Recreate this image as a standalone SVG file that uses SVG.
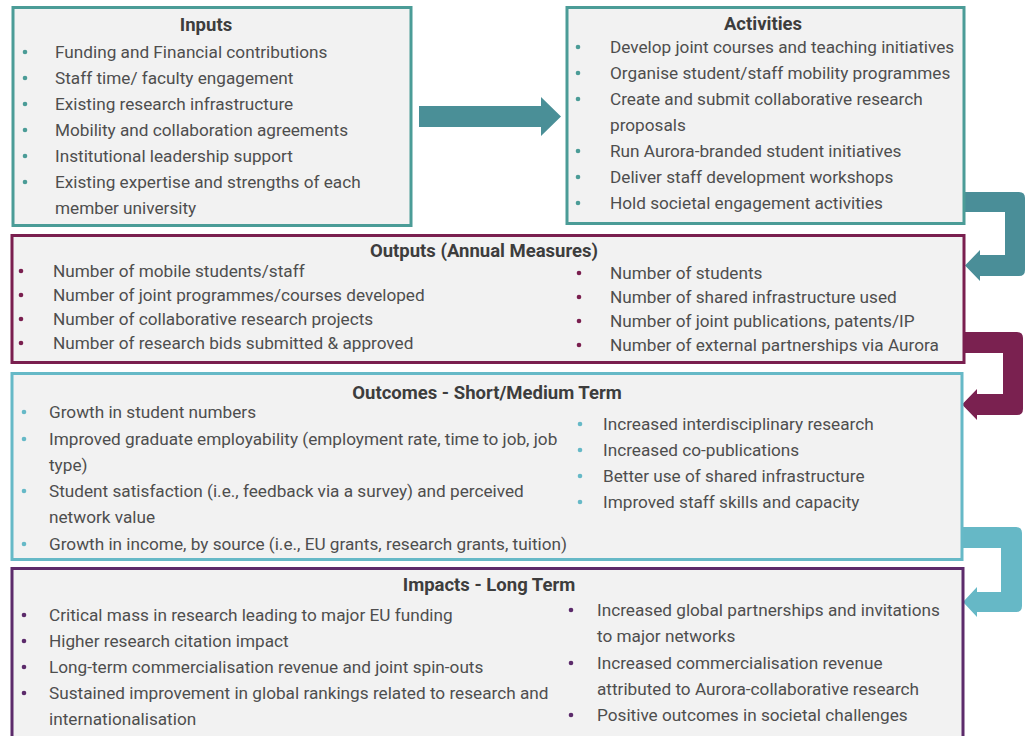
<svg xmlns="http://www.w3.org/2000/svg" width="1029" height="736" viewBox="0 0 1029 736">
<style>
.box{fill:#f2f2f2;stroke-width:3}
.t{font-family:Roboto,"Liberation Sans",sans-serif;font-size:18.5px;font-weight:bold;fill:#3d3d3d;text-anchor:middle}
.b{font-family:Roboto,"Liberation Sans",sans-serif;font-size:17.2px;fill:#4e4e4e}
</style>
<rect width="1029" height="736" fill="#ffffff"/>
<g id="connectors">
<path d="M419 106H541V97L561 116.5L541 136V127H419Z" fill="#4a8f97"/>
<path d="M962 192H1019Q1025 192 1025 198V270Q1025 276 1019 276H980V281L965 265.5L980 250V255H1005V212H962Z" fill="#4a8e98"/>
<path d="M962 332H1017Q1023 332 1023 338V409Q1023 415 1017 415H977V420L962 404.5L977 389V394H1003V353H962Z" fill="#7a2150"/>
<path d="M962 527H1016Q1022 527 1022 533V606Q1022 612 1016 612H977V617L963 602L977 587V592H1001V548H962Z" fill="#66b8c6"/>
</g>
<g id="inputs">
<rect class="box" x="13" y="7.5" width="398" height="218" stroke="#4b9c97"/>
<text class="t" x="206" y="31">Inputs</text>
<g fill="#4b9c97"><circle cx="25" cy="52" r="2.3"/><circle cx="25" cy="78" r="2.3"/><circle cx="25" cy="104" r="2.3"/><circle cx="25" cy="130" r="2.3"/><circle cx="25" cy="156" r="2.3"/><circle cx="25" cy="182" r="2.3"/></g>
<text class="b" x="55" y="58">Funding and Financial contributions</text>
<text class="b" x="55" y="84">Staff time/ faculty engagement</text>
<text class="b" x="55" y="110">Existing research infrastructure</text>
<text class="b" x="55" y="136">Mobility and collaboration agreements</text>
<text class="b" x="55" y="162">Institutional leadership support</text>
<text class="b" x="55" y="188">Existing expertise and strengths of each</text>
<text class="b" x="55" y="214">member university</text>
</g>
<g id="activities">
<rect class="box" x="567" y="7.5" width="397" height="216" stroke="#4b9c97"/>
<text class="t" x="763" y="30">Activities</text>
<g fill="#4b9c97"><circle cx="578" cy="47" r="2.3"/><circle cx="578" cy="73" r="2.3"/><circle cx="578" cy="99" r="2.3"/><circle cx="578" cy="151" r="2.3"/><circle cx="578" cy="177" r="2.3"/><circle cx="578" cy="203" r="2.3"/></g>
<text class="b" x="610" y="53">Develop joint courses and teaching initiatives</text>
<text class="b" x="610" y="79">Organise student/staff mobility programmes</text>
<text class="b" x="610" y="105">Create and submit collaborative research</text>
<text class="b" x="610" y="131">proposals</text>
<text class="b" x="610" y="157">Run Aurora-branded student initiatives</text>
<text class="b" x="610" y="183">Deliver staff development workshops</text>
<text class="b" x="610" y="209">Hold societal engagement activities</text>
</g>
<g id="outputs">
<rect class="box" x="12" y="235.5" width="952" height="127" stroke="#7a1f4f"/>
<text class="t" x="484" y="257">Outputs (Annual Measures)</text>
<g fill="#7a1f4f"><circle cx="21" cy="271" r="2.3"/><circle cx="21" cy="295" r="2.3"/><circle cx="21" cy="319" r="2.3"/><circle cx="21" cy="343" r="2.3"/><circle cx="579" cy="273" r="2.3"/><circle cx="579" cy="297" r="2.3"/><circle cx="579" cy="321" r="2.3"/><circle cx="579" cy="345" r="2.3"/></g>
<text class="b" x="53" y="277">Number of mobile students/staff</text>
<text class="b" x="53" y="301">Number of joint programmes/courses developed</text>
<text class="b" x="53" y="325">Number of collaborative research projects</text>
<text class="b" x="53" y="349">Number of research bids submitted &amp; approved</text>
<text class="b" x="610" y="279">Number of students</text>
<text class="b" x="610" y="303">Number of shared infrastructure used</text>
<text class="b" x="610" y="327">Number of joint publications, patents/IP</text>
<text class="b" x="610" y="351">Number of external partnerships via Aurora</text>
</g>
<g id="outcomes">
<rect class="box" x="12" y="373.5" width="950" height="186" stroke="#66b9c7"/>
<text class="t" x="487" y="399">Outcomes - Short/Medium Term</text>
<g fill="#66b9c7"><circle cx="24" cy="412" r="2.3"/><circle cx="24" cy="439" r="2.3"/><circle cx="24" cy="491" r="2.3"/><circle cx="24" cy="544" r="2.3"/><circle cx="580" cy="424" r="2.3"/><circle cx="580" cy="450" r="2.3"/><circle cx="580" cy="476" r="2.3"/><circle cx="580" cy="502" r="2.3"/></g>
<text class="b" x="49" y="418">Growth in student numbers</text>
<text class="b" x="49" y="445">Improved graduate employability (employment rate, time to job, job</text>
<text class="b" x="49" y="471">type)</text>
<text class="b" x="49" y="497">Student satisfaction (i.e., feedback via a survey) and perceived</text>
<text class="b" x="49" y="523">network value</text>
<text class="b" x="49" y="550">Growth in income, by source (i.e., EU grants, research grants, tuition)</text>
<text class="b" x="603" y="430">Increased interdisciplinary research</text>
<text class="b" x="603" y="456">Increased co-publications</text>
<text class="b" x="603" y="482">Better use of shared infrastructure</text>
<text class="b" x="603" y="508">Improved staff skills and capacity</text>
</g>
<g id="impacts">
<rect class="box" x="12" y="568.5" width="951" height="180" stroke="#5c2b6b"/>
<text class="t" x="489" y="591">Impacts - Long Term</text>
<g fill="#5c2b6b"><circle cx="24" cy="615" r="2.3"/><circle cx="24" cy="641" r="2.3"/><circle cx="24" cy="667" r="2.3"/><circle cx="24" cy="693" r="2.3"/><circle cx="571" cy="610" r="2.3"/><circle cx="571" cy="663" r="2.3"/><circle cx="571" cy="715" r="2.3"/></g>
<text class="b" x="49" y="621">Critical mass in research leading to major EU funding</text>
<text class="b" x="49" y="647">Higher research citation impact</text>
<text class="b" x="49" y="673">Long-term commercialisation revenue and joint spin-outs</text>
<text class="b" x="49" y="699">Sustained improvement in global rankings related to research and</text>
<text class="b" x="49" y="725">internationalisation</text>
<text class="b" x="597" y="616">Increased global partnerships and invitations</text>
<text class="b" x="597" y="642">to major networks</text>
<text class="b" x="597" y="669">Increased commercialisation revenue</text>
<text class="b" x="597" y="695">attributed to Aurora-collaborative research</text>
<text class="b" x="597" y="721">Positive outcomes in societal challenges</text>
</g>
</svg>
